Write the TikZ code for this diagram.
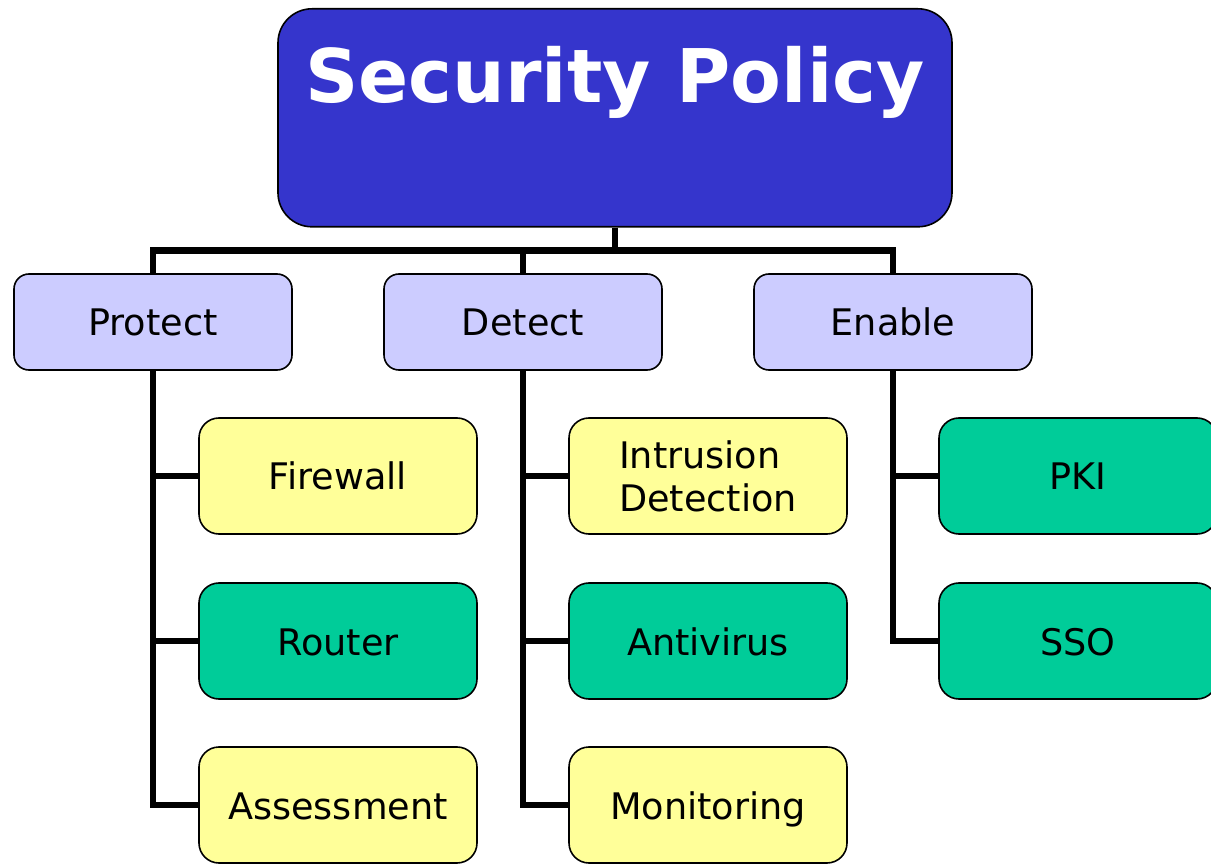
\documentclass[tikz,border=0pt]{standalone}
\usepackage{fontspec}
\setmainfont{DejaVu Sans}
\usetikzlibrary{calc, shapes, backgrounds}

\definecolor{policyblue}{HTML}{3535CC}
\definecolor{areablue}{HTML}{CCCCFF}
\definecolor{toolyellow}{HTML}{FFFF99}
\definecolor{toolgreen}{HTML}{00CC99}

\tikzset{
  box/.style={draw=black, line width=1.6pt, inner sep=0pt, align=left,
    text height=28pt, text depth=0pt,
    font=\fontsize{36.6}{43}\selectfont},
  root/.style={box, fill=policyblue, text=white, rounded corners=34pt,
    minimum width=674pt, text height=94pt, text depth=124pt,
    font=\bfseries\fontsize{74}{80}\selectfont},
  area/.style={box, fill=areablue, rounded corners=15pt,
    minimum width=278pt, minimum height=96pt},
  tool/.style={box, fill=toolyellow, rounded corners=20pt,
    minimum width=278pt, minimum height=116pt},
  core/.style={tool, fill=toolgreen},
  link/.style={line width=6.3pt}
}

\begin{document}
\begin{tikzpicture}[x=1pt, y=-1pt]
  \useasboundingbox (0,0) rectangle (1211,866);

  \node[root, anchor=north] (policy) at (615,8) {Security Policy};

  \node[area] (protect) at (153,322) {Protect};
  \node[area] (detect)  at (523,322) {Detect};
  \node[area] (enable)  at (893,322) {Enable};

  \node[tool] (firewall)  at (338,476) {Firewall};
  \node[core] (router)    at (338,641) {Router};
  \node[tool] (assess)    at (338,805) {Assessment};
  \node[tool, text height=71pt] (ids) at (708,476) {Intrusion\\Detection};
  \node[core] (antivirus) at (708,641) {Antivirus};
  \node[tool] (monitor)   at (708,805) {Monitoring};
  \node[core] (pki)       at (1078,476) {PKI};
  \node[core] (sso)       at (1078,641) {SSO};

  % tree lines behind the boxes
  \begin{scope}[on background layer]
    \draw[link] (policy.south) -- ++(0,23) -| (protect.north);
    \draw[link] (policy.south) -- ++(0,23) -| (detect.north);
    \draw[link] (policy.south) -- ++(0,23) -| (enable.north);
    \foreach \leaf in {firewall, router, assess}
      \draw[link] (protect.south) |- (\leaf.west);
    \foreach \leaf in {ids, antivirus, monitor}
      \draw[link] (detect.south) |- (\leaf.west);
    \foreach \leaf in {pki, sso}
      \draw[link] (enable.south) |- (\leaf.west);
  \end{scope}
\end{tikzpicture}
\end{document}
